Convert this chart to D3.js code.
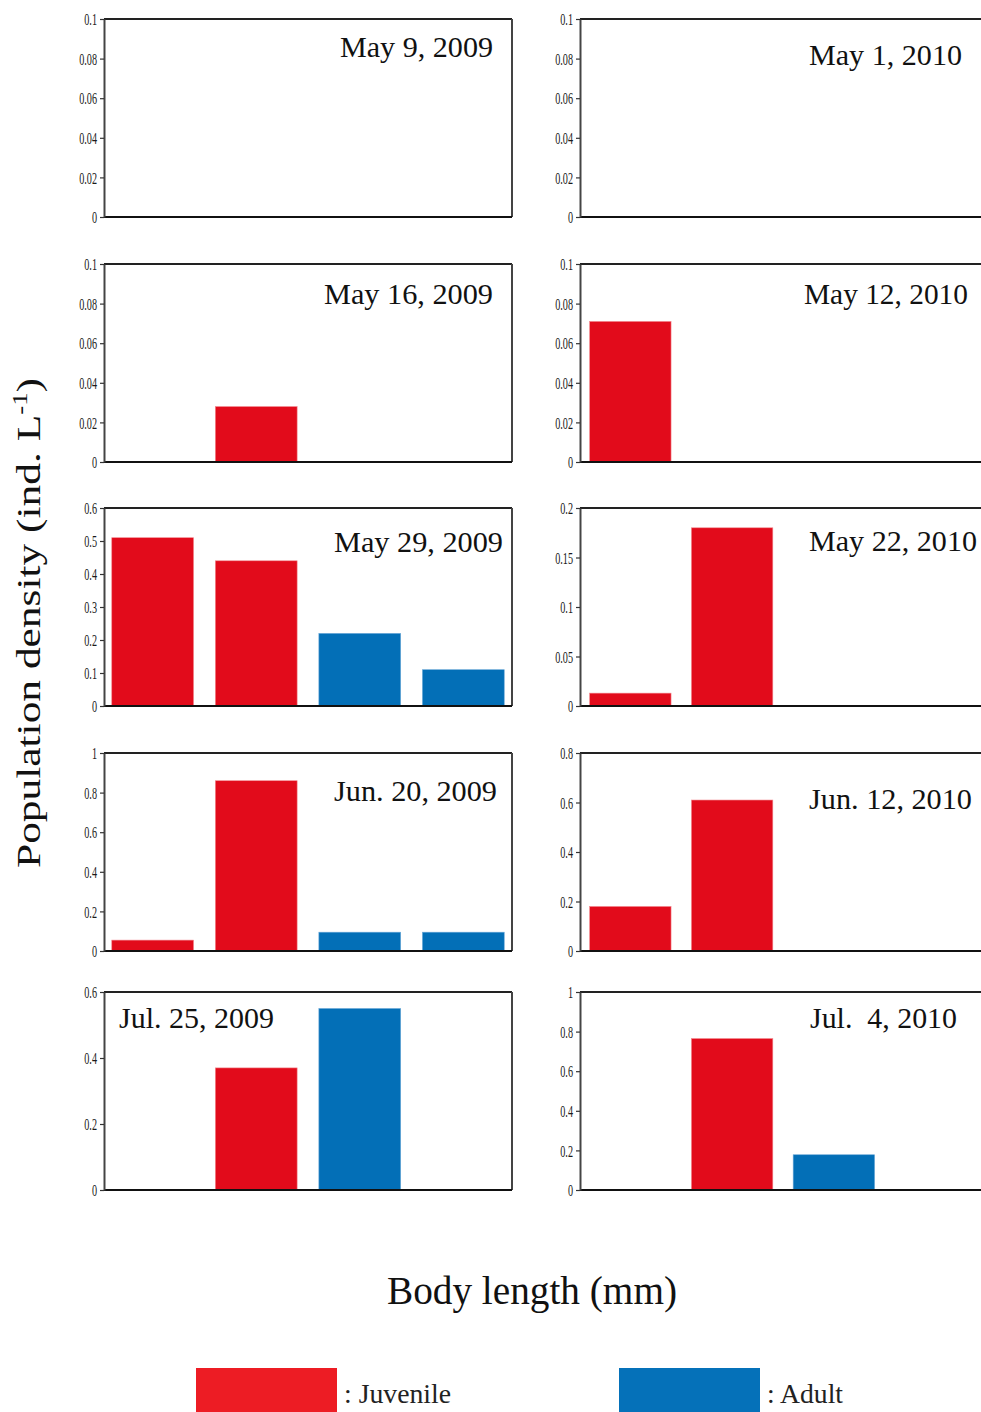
<!DOCTYPE html>
<html>
<head>
<meta charset="utf-8">
<script src="https://cdn.jsdelivr.net/npm/d3@7"></script>
<style>
  html, body { margin: 0; padding: 0; background: #fff; }
  svg { display: block; }
  text { font-family: "Liberation Serif", "Times New Roman", "DejaVu Serif", serif; fill: #111; }
</style>
</head>
<body>
<svg id="chart" width="981" height="1412"></svg>
<script>
// ---------- data ----------
const bins = ["class1", "class2", "class3", "class4"]; // body-length classes (unlabelled in the figure)

const dates2009 = ["May 9, 2009", "May 16, 2009", "May 29, 2009", "Jun. 20, 2009", "Jul. 25, 2009"];
const dates2010 = ["May 1, 2010", "May 12, 2010", "May 22, 2010", "Jun. 12, 2010", "Jul.  4, 2010"];

const juvenile2009 = [
  [0, 0, 0, 0],
  [0, 0.028, 0, 0],
  [0.51, 0.44, 0, 0],
  [0.055, 0.86, 0, 0],
  [0, 0.37, 0, 0]
];
const adult2009 = [
  [0, 0, 0, 0],
  [0, 0, 0, 0],
  [0, 0, 0.22, 0.11],
  [0, 0, 0.095, 0.095],
  [0, 0, 0.55, 0]
];
const juvenile2010 = [
  [0, 0, 0, 0],
  [0.071, 0, 0, 0],
  [0.013, 0.18, 0, 0],
  [0.18, 0.61, 0, 0],
  [0, 0.765, 0, 0]
];
const adult2010 = [
  [0, 0, 0, 0],
  [0, 0, 0, 0],
  [0, 0, 0, 0],
  [0, 0, 0, 0],
  [0, 0, 0.178, 0]
];

const yMax2009 = [0.1, 0.1, 0.6, 1, 0.6];
const yStep2009 = [0.02, 0.02, 0.1, 0.2, 0.2];
const yMax2010 = [0.1, 0.1, 0.2, 0.8, 1];
const yStep2010 = [0.02, 0.02, 0.05, 0.2, 0.2];

const legendLabels = [": Juvenile", ": Adult"];
const yTitle = "Population density (ind. L";
const yTitleSup = "-1";
const xTitle = "Body length (mm)";

// ---------- layout / style ----------
const RED = "#e20b1b", BLUE = "#036fb7";
const LEG_RED = "#ed1c24", LEG_BLUE = "#0571b9";
const colX = [104, 580];
const panelW = 408;
const rowTop = [19, 264, 508, 753, 992];
const panelH = 198;

// title layout: [x, baseline, width]
const titleLayout2009 = [
  [340, 57, 153], [324, 304, 169], [334, 552, 169], [334, 801, 163], [119, 1028, 155]
];
const titleLayout2010 = [
  [809, 65, 153], [804, 304, 164], [809, 551, 168], [809, 809, 163], [810, 1028, 147]
];

const svg = d3.select("#chart");

const xScales = [
  d3.scaleBand().domain(bins).range([0, panelW]).paddingInner(0.21).paddingOuter(0.075),
  d3.scaleBand().domain(bins).range([2, 404]).paddingInner(0.2).paddingOuter(0.075)
];

function fmt(v) { return String(+v.toFixed(3)); }

function drawPanel(col, row, juv, adu, yMax, yStep, title, tl) {
  const x0 = colX[col], top = rowTop[row], bottom = top + panelH;
  const x = xScales[col];
  const g = svg.append("g");
  const y = d3.scaleLinear().domain([0, yMax]).range([bottom, top]);

  // bars
  const rows = bins.map((b, i) => ({ b, j: juv[i], a: adu[i] }));
  g.selectAll("rect.juv").data(rows.filter(d => d.j > 0)).join("rect")
    .attr("x", d => x0 + x(d.b)).attr("width", x.bandwidth())
    .attr("y", d => y(d.j)).attr("height", d => y(0) - y(d.j))
    .attr("fill", RED).attr("stroke", "#f38a90").attr("stroke-width", 0.6);
  g.selectAll("rect.adu").data(rows.filter(d => d.a > 0)).join("rect")
    .attr("x", d => x0 + x(d.b)).attr("width", x.bandwidth())
    .attr("y", d => y(d.a)).attr("height", d => y(0) - y(d.a))
    .attr("fill", BLUE).attr("stroke", "#6aa8d8").attr("stroke-width", 0.6);

  // frame: top, right (left column only), bottom
  g.append("line").attr("x1", x0).attr("x2", x0 + panelW).attr("y1", top).attr("y2", top)
    .attr("stroke", "#222").attr("stroke-width", 2);
  if (col === 0) {
    g.append("line").attr("x1", x0 + panelW).attr("x2", x0 + panelW).attr("y1", top).attr("y2", bottom)
      .attr("stroke", "#444").attr("stroke-width", 2);
  }
  g.append("line").attr("x1", x0).attr("x2", x0 + panelW).attr("y1", bottom).attr("y2", bottom)
    .attr("stroke", "#111").attr("stroke-width", 2);

  // y axis
  const ticks = d3.range(0, yMax + yStep / 2, yStep);
  const ax = g.append("g").attr("transform", `translate(${x0},0)`)
    .call(d3.axisLeft(y).tickValues(ticks).tickFormat(fmt).tickSize(4).tickSizeOuter(0));
  ax.select(".domain").attr("stroke", "#444").attr("stroke-width", 2);
  ax.selectAll(".tick line").attr("stroke", "#333").attr("stroke-width", 1.2);
  const sx = 0.6;
  ax.selectAll(".tick text")
    .attr("transform", `scale(${sx},1)`)
    .attr("x", -7 / sx)
    .attr("dy", "0.34em")
    .style("font-size", "17px").style("fill", "#1a1a1a");

  // title
  g.append("text").attr("x", tl[0]).attr("y", tl[1])
    .attr("textLength", tl[2]).attr("lengthAdjust", "spacingAndGlyphs")
    .style("font-size", "29px").style("white-space", "pre").attr("xml:space", "preserve")
    .text(title);
}

for (let r = 0; r < 5; r++) {
  drawPanel(0, r, juvenile2009[r], adult2009[r], yMax2009[r], yStep2009[r], dates2009[r], titleLayout2009[r]);
  drawPanel(1, r, juvenile2010[r], adult2010[r], yMax2010[r], yStep2010[r], dates2010[r], titleLayout2010[r]);
}

// y axis title
const yt = svg.append("text")
  .attr("transform", "translate(40,868) rotate(-90)")
  .attr("textLength", 490).attr("lengthAdjust", "spacingAndGlyphs")
  .style("font-size", "34px");
yt.append("tspan").text(yTitle);
yt.append("tspan").attr("dy", -13).style("font-size", "21px").text(yTitleSup);
yt.append("tspan").attr("dy", 13).text(")");

// x axis title
svg.append("text").attr("x", 387).attr("y", 1304)
  .attr("textLength", 290).attr("lengthAdjust", "spacingAndGlyphs")
  .style("font-size", "40px").text(xTitle);

// legend
const legColors = [LEG_RED, LEG_BLUE];
const legX = [196, 619];
legendLabels.forEach((lab, i) => {
  svg.append("rect").attr("x", legX[i]).attr("y", 1368).attr("width", 141).attr("height", 50)
    .attr("fill", legColors[i]);
  svg.append("text").attr("x", legX[i] + 148).attr("y", 1403)
    .attr("textLength", i === 0 ? 107 : 76).attr("lengthAdjust", "spacingAndGlyphs")
    .style("font-size", "27px").style("fill", "#222").text(lab);
});
</script>
</body>
</html>
